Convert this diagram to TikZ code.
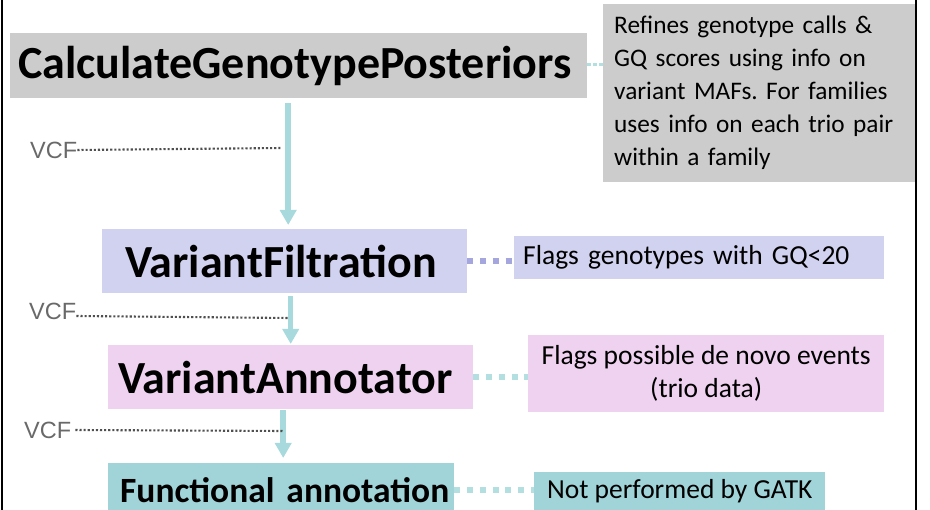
\documentclass[tikz,border=0pt]{standalone}
\usepackage{fontspec}
\setmainfont{Carlito}
\newfontfamily\vcffont{Liberation Sans}
\usetikzlibrary{arrows.meta}
\frenchspacing

\definecolor{boxgray}{RGB}{204,204,204}
\definecolor{lavbox}{RGB}{209,209,240}
\definecolor{lavdots}{RGB}{166,166,222}
\definecolor{pinkbox}{RGB}{239,210,239}
\definecolor{tealbox}{RGB}{160,212,216}
\definecolor{tealline}{RGB}{168,218,221}
\definecolor{tealdots}{RGB}{180,223,225}
\definecolor{vcfgray}{RGB}{105,105,105}

\begin{document}
\begin{tikzpicture}[x=1pt,y=-1pt,
	tool/.style={anchor=north west,inner ysep=0pt,align=left,font=\bfseries\fontsize{46}{50}\selectfont},
	note/.style={anchor=north west,inner sep=0pt,align=center,font=\fontsize{27.5}{33}\selectfont},
	flow/.style={draw=tealline,line width=5.5pt,-{Triangle[width=16pt,length=15pt]}},
	vcf/.style={anchor=west,inner sep=0pt,text=vcfgray,font=\vcffont\fontsize{23.5}{25}\selectfont},
	vcfline/.style={draw=vcfgray!75!black,line width=2.1pt,dash pattern=on 2.1pt off 2pt},
	link/.style={line width=6pt,dash pattern=on 6pt off 6.7pt}]
	
	\useasboundingbox (0,0) rectangle (930,510);
	\clip (0,0) rectangle (930,510);
	
	% slide frame
	\draw[line width=2pt] (2,0) -- (2,510);
	\draw[line width=2pt] (916,0) -- (916,510);
	
	% tools
	\node[tool,fill=boxgray,text width=561pt,inner xsep=8pt,minimum height=65pt] (cgp) at (10,33) {\mbox{CalculateGenotypePosteriors}};
	\node[tool,fill=lavbox,text width=319pt,inner xsep=23pt,minimum height=64pt] (vf) at (102,229) {\mbox{VariantFiltration}};
	\node[tool,fill=pinkbox,text width=345pt,inner xsep=10pt,minimum height=64pt] (va) at (108,345) {\mbox{VariantAnnotator}};
	\node[tool,fill=tealbox,text width=322pt,inner xsep=12pt,minimum height=54pt,font=\bfseries\fontsize{35.5}{38}\selectfont] (fa) at (108,463) {\mbox{Functional annotation}};
	
	% notes
	\node[note,fill=boxgray,align=left,text width=290pt,inner xsep=11pt,minimum height=178pt,font=\fontsize{25.3}{33}\selectfont] (cgpnote) at (603,4) {Refines genotype calls \&\\GQ scores using info on\\variant MAFs. For families\\uses info on each trio pair\\within a family};
	\node[note,fill=lavbox,align=left,text width=352pt,inner xsep=9pt,minimum height=43pt] (vfnote) at (514,236) {Flags genotypes with GQ<20};
	\node[note,fill=pinkbox,minimum width=356pt,minimum height=77pt] (vanote) at (528,335) {Flags possible de novo events\\(trio data)};
	\node[note,fill=tealbox,minimum width=291pt,minimum height=38pt] (fanote) at (534,472) {Not performed by GATK};
	
	\draw[link,draw=tealdots,line width=3.5pt,dash pattern=on 3.5pt off 2.5pt] ([yshift=1pt]cgp.east) -- ([yshift=1pt]cgp.east -| cgpnote.west);
	\draw[link,draw=lavdots] (vf.east) -- (vf.east -| vfnote.west);
	\draw[link,draw=tealdots] (va.east) -- (va.east -| vanote.west);
	\draw[link,draw=tealdots] (fa.east) -- (fa.east -| fanote.west);
	
	% pipeline
	\draw[flow,shorten <=5pt,shorten >=4pt] ([xshift=3.5pt]cgp.south -| vf.north) -- ([xshift=3.5pt]vf.north);
	\draw[flow,shorten <=3pt,shorten >=1pt] (vf.south -| va.north) -- (va.north);
	\draw[flow,shorten <=1pt,shorten >=5pt] ([xshift=2pt]va.south -| fa.north) -- ([xshift=2pt]fa.north);
	
	% VCF outputs
	\node[vcf] (vcf1) at (30,150) {VCF};
	\node[vcf] (vcf2) at (29,311) {VCF};
	\node[vcf] (vcf3) at (24,430) {VCF};
	\coordinate (vcf1end) at (282,148);
	\coordinate (vcf2end) at (288,318);
	\coordinate (vcf3end) at (283,431);
	\draw[vcfline] (vcf1.east) -- (vcf1end);
	\draw[vcfline] ([yshift=-5pt]vcf2.east) -- (vcf2end);
	\draw[vcfline] ([xshift=4pt]vcf3.east) -- (vcf3end);
\end{tikzpicture}
\end{document}
